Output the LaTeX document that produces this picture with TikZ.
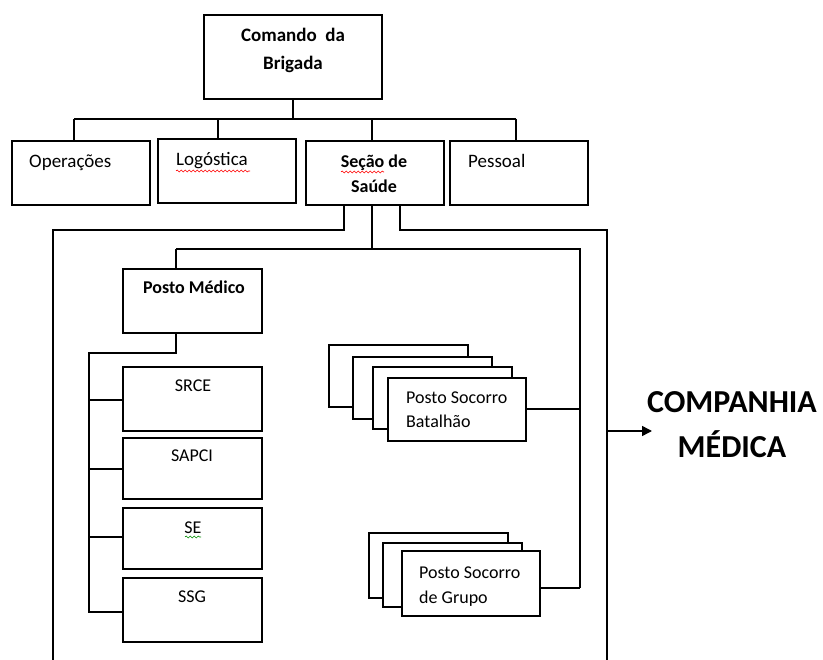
\documentclass[tikz,border=0pt]{standalone}
\usepackage{fontspec}
\setmainfont{Carlito}
\usetikzlibrary{arrows.meta,decorations.pathmorphing}
\begin{document}
\begin{tikzpicture}[x=1pt,y=-1pt,
  box/.style={draw, line width=1.5pt, fill=white, inner sep=0pt, outer sep=0pt, anchor=north west},
  conn/.style={line width=1.5pt},
  txt/.style={font=\fontsize{18}{21}\selectfont, inner sep=0pt},
  ttxt/.style={font=\fontsize{19}{22}\selectfont, inner sep=0pt, anchor=base west},
  btxt/.style={font=\bfseries\fontsize{18}{21}\selectfont, inner sep=0pt, anchor=base},
  big/.style={font=\bfseries\fontsize{32}{36}\selectfont, inner sep=0pt, anchor=base},
  wavy/.style={decorate, decoration={snake, amplitude=1pt, segment length=4pt}, line width=0.6pt}
]
\useasboundingbox (0,0) rectangle (823,660);

% top level
\node[box, minimum width=178pt, minimum height=84pt] (cmd) at (204,15) {};
\node[btxt, font=\bfseries\fontsize{19}{22}\selectfont] (cmdT1) at (293,42) {Comando\ \ da};
\node[btxt, font=\bfseries\fontsize{19}{22}\selectfont] (cmdT2) at (293,70) {Brigada};

% second level
\node[box, minimum width=138pt, minimum height=64pt] (ops) at (12,141) {};
\node[box, minimum width=138pt, minimum height=64pt] (log) at (158,139) {};
\node[box, minimum width=138pt, minimum height=64pt] (sec) at (306,141) {};
\node[box, minimum width=138pt, minimum height=64pt] (pes) at (450,141) {};
\node[ttxt] (opsT) at (29,168) {Operações};
\node[ttxt] (logT) at (176,166) {Logóstica};
\node[btxt] (secT1) at (374,168) {Seção de};
\node[btxt] (secT2) at (374,193) {Saúde};
\node[ttxt] (pesT) at (468,168) {Pessoal};
\draw[red, wavy] (176,171) -- (250,171);
\draw[red, wavy] (341,172) -- (384,172);

% bus from command
\coordinate (busL) at (74,119);
\coordinate (busR) at (516,119);
\coordinate (busLog) at (218,119);
\coordinate (busSec) at (372,119);
\draw[conn] (cmd.south) -- (cmd.south |- busL);
\draw[conn] (busL) -- (busR);
\draw[conn] (busL) -- (busL |- ops.north);
\draw[conn] (busLog) -- (busLog |- log.north);
\draw[conn] (busSec) -- (busSec |- sec.north);
\draw[conn] (busR) -- (busR |- pes.north);

% frame below Seção de Saúde
\coordinate (secL) at (344,205);
\coordinate (secM) at (372,205);
\coordinate (secR) at (400,205);
\coordinate (frL) at (53,230);
\coordinate (frR) at (607,230);
\coordinate (frLb) at (53,662);
\coordinate (frRb) at (607,662);
\draw[conn] (secL) |- (frL) -- (frLb);
\draw[conn] (secR) |- (frR) -- (frRb);

% inner distribution
\coordinate (inL) at (176,249);
\coordinate (inR) at (580,249);
\coordinate (inRb) at (580,588);
\draw[conn] (secM) -- (secM |- inL);
\draw[conn] (inL) -- (inR) -- (inRb);

% Posto Médico
\node[box, minimum width=139pt, minimum height=64pt] (pm) at (123,269) {};
\node[btxt] (pmT) at (194,294) {Posto Médico};
\draw[conn] (inL) -- (inL |- pm.north);

\node[box, minimum width=139pt, minimum height=64pt] (srce) at (123,367) {};
\node[box, minimum width=139pt, minimum height=61pt] (sapci) at (123,438) {};
\node[box, minimum width=139pt, minimum height=61pt] (se) at (123,508) {};
\node[box, minimum width=139pt, minimum height=64pt] (ssg) at (123,578) {};
\node[txt, anchor=base] (srceT) at (193,392) {SRCE};
\node[txt, anchor=base] (sapciT) at (192,462) {SAPCI};
\node[txt, anchor=base] (seT) at (193,533) {SE};
\node[txt, anchor=base] (ssgT) at (192,602) {SSG};
\draw[green!55!black, wavy] (185,537) -- (201,537);

\coordinate (pmB) at (176,353);
\coordinate (spine) at (89,353);
\coordinate (spineB) at (89,612);
\draw[conn] (pm.south -| pmB) -- (pmB) -- (spine) -- (spineB) -- (spineB -| ssg.west);
\draw[conn] (spine |- 0,400) coordinate (b1) -- (b1 -| srce.west);
\draw[conn] (spine |- 0,469) coordinate (b2) -- (b2 -| sapci.west);
\draw[conn] (spine |- 0,537) coordinate (b3) -- (b3 -| se.west);

% Posto Socorro Batalhão stack
\node[box, minimum width=139pt, minimum height=62pt] (bat1) at (329,345) {};
\node[box, minimum width=139pt, minimum height=62pt] (bat2) at (353,357) {};
\node[box, minimum width=139pt, minimum height=62pt] (bat3) at (373,367) {};
\node[box, minimum width=138pt, minimum height=63pt] (bat) at (388,378) {};
\node[txt, anchor=base west] (batT1) at (406,404) {Posto Socorro};
\node[txt, anchor=base west] (batT2) at (406,428) {Batalhão};
\draw[conn] (bat.east |- 0,409) coordinate (batC) -- (batC -| inR);

% Posto Socorro de Grupo stack
\node[box, minimum width=139pt, minimum height=65pt] (grp1) at (369,533) {};
\node[box, minimum width=139pt, minimum height=64pt] (grp2) at (383,543) {};
\node[box, minimum width=138pt, minimum height=65pt] (grp) at (402,551) {};
\node[txt, anchor=base west] (grpT1) at (419,579) {Posto Socorro};
\node[txt, anchor=base west] (grpT2) at (419,603) {de Grupo};
\draw[conn] (grp.east |- inRb) -- (inRb);

% Companhia Médica
\node[big] (cm1) at (732,413) {COMPANHIA};
\node[big] (cm2) at (732,458) {MÉDICA};
\coordinate (arrS) at (607,431);
\coordinate (arrE) at (652,431);
\draw[conn, -{Triangle[length=10pt,width=10pt]}] (arrS) -- (arrE);
\end{tikzpicture}
\end{document}
